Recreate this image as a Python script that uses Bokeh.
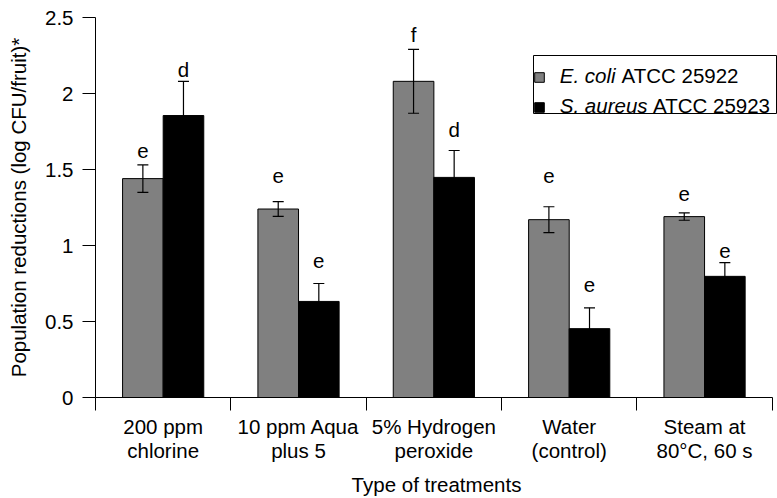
from bokeh.plotting import figure
from bokeh.models import (Range1d, FixedTicker, Whisker, TeeHead, ColumnDataSource,
                          Legend, LegendItem, Label, NumeralTickFormatter, BoxAnnotation)
from bokeh.core.properties import value
from bokeh.embed import file_html
from bokeh.resources import INLINE

# ---------------- data ----------------
treatments = ["200 ppm\nchlorine", "10 ppm Aqua\nplus 5", "5% Hydrogen\nperoxide",
              "Water\n(control)", "Steam at\n80°C, 60 s"]
ecoli = [1.44, 1.24, 2.08, 1.17, 1.19]
ecoli_err = [0.09, 0.048, 0.21, 0.085, 0.024]
saureus = [1.855, 0.632, 1.448, 0.453, 0.797]
saureus_err = [0.225, 0.118, 0.177, 0.137, 0.09]
ecoli_letters = ["e", "e", "f", "e", "e"]
saureus_letters = ["d", "e", "d", "e", "e"]
ecoli_letter_y = [1.625, 1.454, 2.39, 1.454, 1.339]
saureus_letter_y = [2.159, 0.896, 1.76, 0.743, 0.967]
y_ticks = [0, 0.5, 1, 1.5, 2, 2.5]
y_tick_labels = ["0", "0.5", "1", "1.5", "2", "2.5"]
series_names = [("E. coli", "ATCC 25922"), ("S. aureus", "ATCC 25923")]

FONT = "Liberation Sans"
FS = "20.5px"
BAR_W = 0.3
GRAY = "#808080"
X_PAD = 0.039   # a little room right of the last category for the legend frame

n = len(treatments)
centers = [i + 0.5 for i in range(n)]
x_ecoli = [c - BAR_W / 2 for c in centers]
x_saureus = [c + BAR_W / 2 for c in centers]

src_e = ColumnDataSource(dict(x=x_ecoli, top=ecoli,
                              upper=[v + e for v, e in zip(ecoli, ecoli_err)],
                              lower=[v - e for v, e in zip(ecoli, ecoli_err)],
                              letter=ecoli_letters, ly=ecoli_letter_y))
src_s = ColumnDataSource(dict(x=x_saureus, top=saureus,
                              upper=[v + e for v, e in zip(saureus, saureus_err)],
                              lower=[v - e for v, e in zip(saureus, saureus_err)],
                              letter=saureus_letters, ly=saureus_letter_y))

p = figure(width=777, height=498, x_range=Range1d(0, n + X_PAD), y_range=Range1d(0, 2.5),
           output_backend="svg", toolbar_location=None,
           min_border_left=95, min_border_right=0, min_border_top=17, min_border_bottom=100)
p.outline_line_color = None
p.xgrid.grid_line_color = None
p.ygrid.grid_line_color = None
p.background_fill_color = "white"
p.border_fill_color = "white"

r1 = p.vbar(x="x", top="top", bottom=0, width=BAR_W, source=src_e,
            fill_color=GRAY, line_color="black", line_width=1)
r2 = p.vbar(x="x", top="top", bottom=0, width=BAR_W, source=src_s,
            fill_color="black", line_color="black", line_width=1)

for src in (src_e, src_s):
    w = Whisker(source=src, base="x", upper="upper", lower="lower",
                line_color="black", line_width=1.2, level="overlay",
                upper_head=TeeHead(size=11, line_color="black", line_width=1.2),
                lower_head=TeeHead(size=11, line_color="black", line_width=1.2))
    p.add_layout(w)
    p.text(x="x", y="ly", text="letter", source=src, text_align="center",
           text_baseline="alphabetic", text_font=value(FONT), text_font_size=FS,
           text_color="black")

# axes
xa = p.xaxis[0]
xa.bounds = (0, n)
xa.ticker = FixedTicker(ticks=centers, minor_ticks=list(range(n + 1)))
xa.major_label_overrides = {c: t for c, t in zip(centers, treatments)}
xa.major_tick_out = 0
xa.major_tick_in = 0
xa.minor_tick_out = 13
xa.minor_tick_in = 0
xa.minor_tick_line_color = "black"
xa.major_label_standoff = 4
xa.major_label_text_line_height = 1.05
xa.axis_label = "Type of treatments"
xa.axis_label_standoff = 8

ya = p.yaxis[0]
ya.ticker = FixedTicker(ticks=y_ticks, minor_ticks=[])
ya.formatter = NumeralTickFormatter(format="0.[0]")
ya.major_label_overrides = {t: l for t, l in zip(y_ticks, y_tick_labels)}
ya.major_tick_out = 13
ya.major_tick_in = 0
ya.minor_tick_out = 0
ya.minor_tick_in = 0
ya.major_label_standoff = 9
ya.axis_label = "Population reductions (log CFU/fruit)*"
ya.axis_label_standoff = 12

for ax in (xa, ya):
    ax.axis_line_color = "black"
    ax.axis_line_width = 1
    ax.major_tick_line_color = "black"
    ax.major_label_text_color = "black"
    ax.major_label_text_font = FONT
    ax.major_label_text_font_size = FS
    ax.axis_label_text_color = "black"
    ax.axis_label_text_font = FONT
    ax.axis_label_text_font_size = FS
    ax.axis_label_text_font_style = "normal"

# legend swatches (Legend), frame (BoxAnnotation) and mixed-style labels (Labels)
legend = Legend(items=[LegendItem(label=" ".join(series_names[0]), renderers=[r1]),
                       LegendItem(label=" ".join(series_names[1]), renderers=[r2])],
                location=(438, 284), padding=7, spacing=18, margin=0,
                glyph_width=12, glyph_height=12, label_height=12, label_width=200,
                label_standoff=7, label_text_font_size="8px", label_text_alpha=0,
                border_line_color=None, background_fill_alpha=0)
p.add_layout(legend)

p.add_layout(BoxAnnotation(left=438, right=681, bottom=284, top=342,
                           left_units="screen", right_units="screen",
                           bottom_units="screen", top_units="screen",
                           fill_alpha=0, fill_color=None, line_color="black",
                           line_width=1, line_alpha=1, level="overlay"))

row_y = [321.6, 291.6]
second_x = [526.0, 557.5]
for (ital, rest), yy, sx in zip(series_names, row_y, second_x):
    p.add_layout(Label(x=464.3, y=yy, x_units="screen", y_units="screen", text=ital,
                       text_font=FONT, text_font_size=FS, text_font_style="italic",
                       text_color="black", text_baseline="alphabetic", level="overlay"))
    p.add_layout(Label(x=sx, y=yy, x_units="screen", y_units="screen", text=rest,
                       text_font=FONT, text_font_size=FS, text_color="black",
                       text_baseline="alphabetic", level="overlay"))

open("out.html", "w").write(file_html(p, INLINE))
